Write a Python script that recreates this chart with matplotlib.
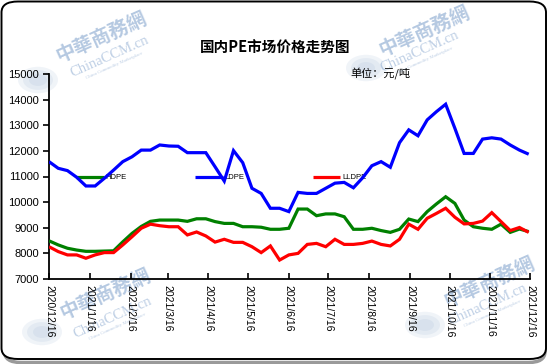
import matplotlib
matplotlib.use("Agg")
import matplotlib.pyplot as plt
import matplotlib.dates as mdates
from matplotlib.patches import FancyBboxPatch, Circle
import datetime as dt

plt.rcParams['font.family'] = ['Liberation Sans', 'Noto Sans CJK SC', 'DejaVu Sans']

# ---------------- data ----------------
start_date = "2020-12-16"   # weekly observations
hdpe = [8490, 8330, 8200, 8130, 8080, 8080, 8090, 8100, 8450, 8780,
        9050, 9250, 9300, 9300, 9300, 9250, 9350, 9350, 9240, 9170,
        9170, 9040, 9040, 9020, 8940, 8940, 8980, 9730, 9730, 9470,
        9540, 9540, 9430, 8940, 8940, 8980, 8890, 8820, 8940, 9340,
        9240, 9630, 9930, 10210, 9950, 9300, 9040, 8980, 8940, 9140,
        8820, 8950, 8850]
ldpe = [11580, 11320, 11230, 10970, 10630, 10630, 10930, 11250, 11580, 11770,
        12030, 12030, 12230, 12190, 12180, 11930, 11930, 11930, 11380, 10820,
        12010, 11540, 10540, 10340, 9760, 9760, 9630, 10380, 10340, 10340,
        10540, 10740, 10770, 10560, 10950, 11420, 11580, 11360, 12320, 12820,
        12590, 13210, 13530, 13820, 12880, 11900, 11900, 12460, 12510, 12460,
        12230, 12030, 11870]
lldpe = [8260, 8070, 7940, 7940, 7810, 7940, 8030, 8030, 8330, 8650,
         8980, 9140, 9080, 9040, 9040, 8720, 8835, 8680, 8440, 8550,
         8430, 8430, 8260, 8030, 8290, 7740, 7940, 8000, 8350, 8390,
         8260, 8550, 8350, 8350, 8390, 8480, 8350, 8290, 8550, 9140,
         8940, 9370, 9560, 9760, 9410, 9150, 9170, 9260, 9590, 9240,
         8890, 9010, 8820]
series_names = ["HDPE", "LDPE", "LLDPE"]
series_colors = ["#008000", "#0000ff", "#ff0000"]
tick_labels = ["2020/12/16", "2021/1/16", "2021/2/16", "2021/3/16", "2021/4/16",
               "2021/5/16", "2021/6/16", "2021/7/16", "2021/8/16", "2021/9/16",
               "2021/10/16", "2021/11/16", "2021/12/16"]
y_ticks = [7000, 8000, 9000, 10000, 11000, 12000, 13000, 14000, 15000]
title = "国内PE市场价格走势图"
unit = "单位：元/吨"

# ---------------- figure ----------------
W, H = 550, 364
fig = plt.figure(figsize=(W / 100, H / 100), dpi=100)
fig.patch.set_facecolor("white")

def fx(px):
    return px / W

def fy(py):
    return 1 - py / H

# outer rounded frame with shadow
shadow = FancyBboxPatch((fx(4.5), fy(362.5)), fx(545) - fx(4.5), fy(4.5) - fy(362.5),
                        boxstyle="round,pad=0,rounding_size=0.03",
                        transform=fig.transFigure, facecolor="none",
                        edgecolor="#9a9a9a", linewidth=2.5, zorder=0)
fig.patches.append(shadow)
frame = FancyBboxPatch((fx(1.5), fy(359)), fx(546) - fx(1.5), fy(1.5) - fy(359),
                       boxstyle="round,pad=0,rounding_size=0.03",
                       transform=fig.transFigure, facecolor="white",
                       edgecolor="black", linewidth=1.4, zorder=0.5)
fig.patches.append(frame)

# watermarks
wm_color = "#5b86bd"
marks = [((102, 38), (110, 57), (38, 80)),
         ((425, 32), (420, 52), (366, 68)),
         ((106, 295), (113, 318), (42, 332)),
         ((490, 283), (488, 305), (425, 325))]
for (cx1, cy1), (cx2, cy2), (gx, gy) in marks:
    fig.text(fx(cx1), fy(cy1), "中華商務網", rotation=24, ha="center", va="center",
             fontsize=14, color=wm_color, alpha=0.45, fontweight="bold",
             family=["Noto Sans CJK TC", "DejaVu Sans"], zorder=1)
    fig.text(fx(cx2), fy(cy2), "ChinaCCM.cn", rotation=24, ha="center", va="center",
             fontsize=10.5, color=wm_color, alpha=0.4, family="Liberation Serif", zorder=1)
    fig.text(fx(cx2 + 4), fy(cy2 + 9), "China Commodity Marketplace", rotation=24,
             ha="center", va="center", fontsize=3.5, color=wm_color, alpha=0.4,
             family="Liberation Serif", zorder=1)
    for r, a in [(20, 0.12), (15, 0.12), (9, 0.12)]:
        g = Circle((fx(gx), fy(gy)), radius=r / W, transform=fig.transFigure,
                   facecolor="#8aa6cc", edgecolor="none", alpha=a, zorder=1)
        fig.patches.append(g)

# axes
ax = fig.add_axes([fx(49), fy(279), fx(530) - fx(49), fy(74) - fy(279)])
ax.patch.set_alpha(0)
ax.set_zorder(2)

d0 = dt.datetime.strptime(start_date, "%Y-%m-%d")
dates = [d0 + dt.timedelta(days=7 * i) for i in range(len(hdpe))]
xs = mdates.date2num(dates)

for vals, name, col in zip([hdpe, ldpe, lldpe], series_names, series_colors):
    ax.plot(xs, vals, color=col, linewidth=2.3, label=name, zorder=3,
            solid_joinstyle="miter", solid_capstyle="butt")

tick_dates = [dt.datetime.strptime(t, "%Y/%m/%d") for t in tick_labels]
tick_pos = mdates.date2num(tick_dates)
ax.set_xlim(tick_pos[0], tick_pos[-1])
ax.set_xticks(tick_pos)
ax.set_xticklabels(tick_labels, rotation=-90, fontsize=7.5, va="top", ha="center")
ax.set_ylim(7000, 15000)
ax.set_yticks(y_ticks)
ax.set_yticklabels([str(v) for v in y_ticks], fontsize=8)

for s in ["top", "right"]:
    ax.spines[s].set_visible(False)
for s in ["left", "bottom"]:
    ax.spines[s].set_linewidth(1.3)
    ax.spines[s].set_color("black")
ax.tick_params(axis="x", direction="in", length=4, width=1.2, pad=4)
ax.tick_params(axis="y", direction="out", length=4, width=1.2, pad=3)

leg = ax.legend(loc="center left", bbox_to_anchor=(fx(76), fy(177.7)),
                bbox_transform=fig.transFigure, ncol=3, frameon=False,
                fontsize=5.5, handlelength=3.6, handletextpad=0.3,
                columnspacing=8.9, borderpad=0, borderaxespad=0)
leg.set_zorder(1.5)

fig.text(0.5, fy(48), title, ha="center", va="center", fontsize=10.5,
         fontweight="bold", family=["Noto Sans CJK SC", "DejaVu Sans"], zorder=3)
fig.text(fx(350), fy(74), unit, ha="left", va="center", fontsize=8,
         family=["Noto Sans CJK SC", "DejaVu Sans"], zorder=3)

fig.savefig("out.png", dpi=100)
